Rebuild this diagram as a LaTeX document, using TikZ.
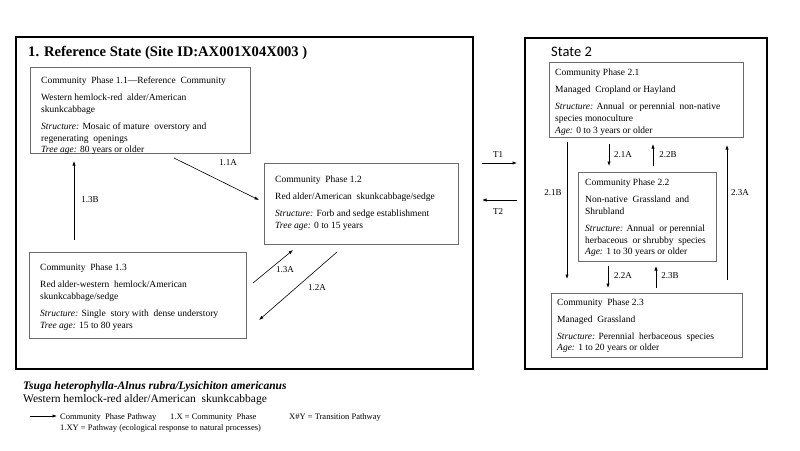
\documentclass[tikz,border=0pt]{standalone}
\usepackage{fontspec}
\setmainfont{Liberation Serif}
\newfontfamily\statefont{Carlito}
\usetikzlibrary{arrows.meta,calc}
\definecolor{boxgray}{HTML}{6A6A6A}
\begin{document}
\begin{tikzpicture}[x=1pt,y=-1pt,
  frame/.style={draw=black,line width=1.8pt,anchor=north west,inner sep=0pt,outer sep=0pt},
  phase/.style={draw=boxgray,line width=0.8pt,anchor=north west,inner sep=0pt,outer sep=0pt},
  ptext/.style={anchor=north west,inner sep=0pt,align=left,font=\fontsize{9.5}{12}\selectfont},
  arr/.style={line width=0.6pt,-{Latex[length=4.5pt,width=3.2pt]}},
  lab/.style={inner sep=0pt,font=\fontsize{9}{10}\selectfont}]
\useasboundingbox (0,0) rectangle (800,450);
\fill[white] (0,0) rectangle (800,450);

% frames
\node[frame,minimum width=457pt,minimum height=332pt] (s1) at (16,37) {};
\node[frame,minimum width=242pt,minimum height=331pt] (s2) at (525,38) {};
\node[anchor=base west,inner sep=0pt,font=\fontsize{14.6}{17}\selectfont\bfseries] (s1t) at (28,56) {1. Reference State (Site ID:AX001X04X003~)};
\node[anchor=base west,inner sep=0pt,font=\fontsize{14.5}{16}\selectfont\statefont] (s2t) at (551,56) {State 2};

% phase boxes
\node[phase,minimum width=220pt,minimum height=86pt] (b11) at (30,67) {};
\node[phase,minimum width=194pt,minimum height=81pt] (b12) at (264,163) {};
\node[phase,minimum width=217pt,minimum height=86pt] (b13) at (29,252) {};
\node[phase,minimum width=194pt,minimum height=75pt] (b21) at (549,62) {};
\node[phase,minimum width=138pt,minimum height=89pt] (b22) at (578,172) {};
\node[phase,minimum width=191pt,minimum height=64pt] (b23) at (551,293) {};

\node[ptext] (t11) at (41,76.5) {Community~ Phase 1.1---Reference~ Community\\[5pt]
Western hemlock-red~ alder/American\\ skunkcabbage\\[5pt]
\textit{Structure:} Mosaic of mature~ overstory and\\ regenerating~ openings\\[-1pt]
\textit{Tree age:} 80 years or older};
\node[ptext] (t12) at (275,175.5) {Community~ Phase 1.2\\[5pt]
Red alder/American~ skunkcabbage/sedge\\[5pt]
\textit{Structure:} Forb and sedge establishment\\
\textit{Tree age:} 0 to 15 years};
\node[ptext] (t13) at (40,263.5) {Community~ Phase 1.3\\[5pt]
Red alder-western~ hemlock/American\\ skunkcabbage/sedge\\[5pt]
\textit{Structure:} Single~ story with~ dense understory\\
\textit{Tree age:} 15 to 80 years};
\node[ptext] (t21) at (555,68.5) {Community Phase 2.1\\[5pt]
Managed~ Cropland or Hayland\\[5pt]
\textit{Structure:} Annual~ or perennial~ non-native\\ species monoculture\\
\textit{Age:} 0 to 3 years or older};
\node[ptext] (t22) at (585,178.5) {Community Phase 2.2\\[5pt]
Non-native~ Grassland~ and\\ Shrubland\\[5pt]
\textit{Structure:} Annual~ or perennial\\ herbaceous~ or shrubby~ species\\[-1pt]
\textit{Age:} 1 to 30 years or older};
\node[ptext] (t23) at (557,298.5) {Community~ Phase 2.3\\[5pt]
Managed~ Grassland\\[5pt]
\textit{Structure:} Perennial~ herbaceous~ species\\[-1pt]
\textit{Age:} 1 to 20 years or older};

% connector end points
\coordinate (a11s) at (174,158); \coordinate (a11e) at (259,200);
\coordinate (a13bs) at (74,240); \coordinate (a13be) at (74,161);
\coordinate (a13as) at (253,283); \coordinate (a13ae) at (293,250);
\coordinate (a12as) at (337,252); \coordinate (a12ae) at (259,320);
\coordinate (t1s) at (482,163); \coordinate (t1e) at (517,163);
\coordinate (t2s) at (517,200); \coordinate (t2e) at (482,200);
\coordinate (a21as) at (609,144); \coordinate (a21ae) at (609,166);
\coordinate (a22bs) at (653,166); \coordinate (a22be) at (653,144);
\coordinate (a21bs) at (567,142); \coordinate (a21be) at (567,279);
\coordinate (a23as) at (727,280); \coordinate (a23ae) at (727,145);
\coordinate (a22as) at (608,266); \coordinate (a22ae) at (608,288);
\coordinate (a23bs) at (656,288); \coordinate (a23be) at (656,266);

\draw[arr] (a11s) -- (a11e);
\draw[arr] (a13bs) -- (a13be);
\draw[arr] (a13as) -- (a13ae);
\draw[arr] (a12as) -- (a12ae);
\draw[arr] (t1s) -- (t1e);
\draw[arr] (t2s) -- (t2e);
\draw[arr] (a21as) -- (a21ae);
\draw[arr] (a22bs) -- (a22be);
\draw[arr] (a21bs) -- (a21be);
\draw[arr] (a23as) -- (a23ae);
\draw[arr] (a22as) -- (a22ae);
\draw[arr] (a23bs) -- (a23be);

\node[lab] (l11a) at (228,163) {1.1A};
\node[lab] (l13b) at (90,200) {1.3B};
\node[lab] (l13a) at (285,270) {1.3A};
\node[lab] (l12a) at (317,288) {1.2A};
\node[lab] (lt1) at (498,155) {T1};
\node[lab] (lt2) at (498,212) {T2};
\node[lab] (l21a) at (623,155) {2.1A};
\node[lab] (l22b) at (668,155) {2.2B};
\node[lab] (l21b) at (553,193) {2.1B};
\node[lab] (l23a) at (740,193) {2.3A};
\node[lab] (l22a) at (623,276) {2.2A};
\node[lab] (l23b) at (670,276) {2.3B};

% legend
\node[anchor=base west,inner sep=0pt,font=\fontsize{11.5}{13}\selectfont\bfseries\itshape] (g1) at (23,389) {Tsuga heterophylla-Alnus rubra/Lysichiton americanus};
\node[anchor=base west,inner sep=0pt,font=\fontsize{11.5}{13}\selectfont] (g2) at (23,402) {Western hemlock-red alder/American~ skunkcabbage};
\coordinate (ls) at (30,416); \coordinate (le) at (57,416);
\draw[arr] (ls) -- (le);
\node[anchor=base west,inner sep=0pt,font=\fontsize{8.5}{10}\selectfont] (g3) at (60,419) {Community~ Phase Pathway};
\node[anchor=base west,inner sep=0pt,font=\fontsize{8.5}{10}\selectfont] (g4) at (170,419) {1.X = Community~ Phase};
\node[anchor=base west,inner sep=0pt,font=\fontsize{8.5}{10}\selectfont] (g5) at (289,419) {X\#Y = Transition Pathway};
\node[anchor=base west,inner sep=0pt,font=\fontsize{8.5}{10}\selectfont] (g6) at (60,430) {1.XY = Pathway (ecological response to natural processes)};
\end{tikzpicture}
\end{document}
